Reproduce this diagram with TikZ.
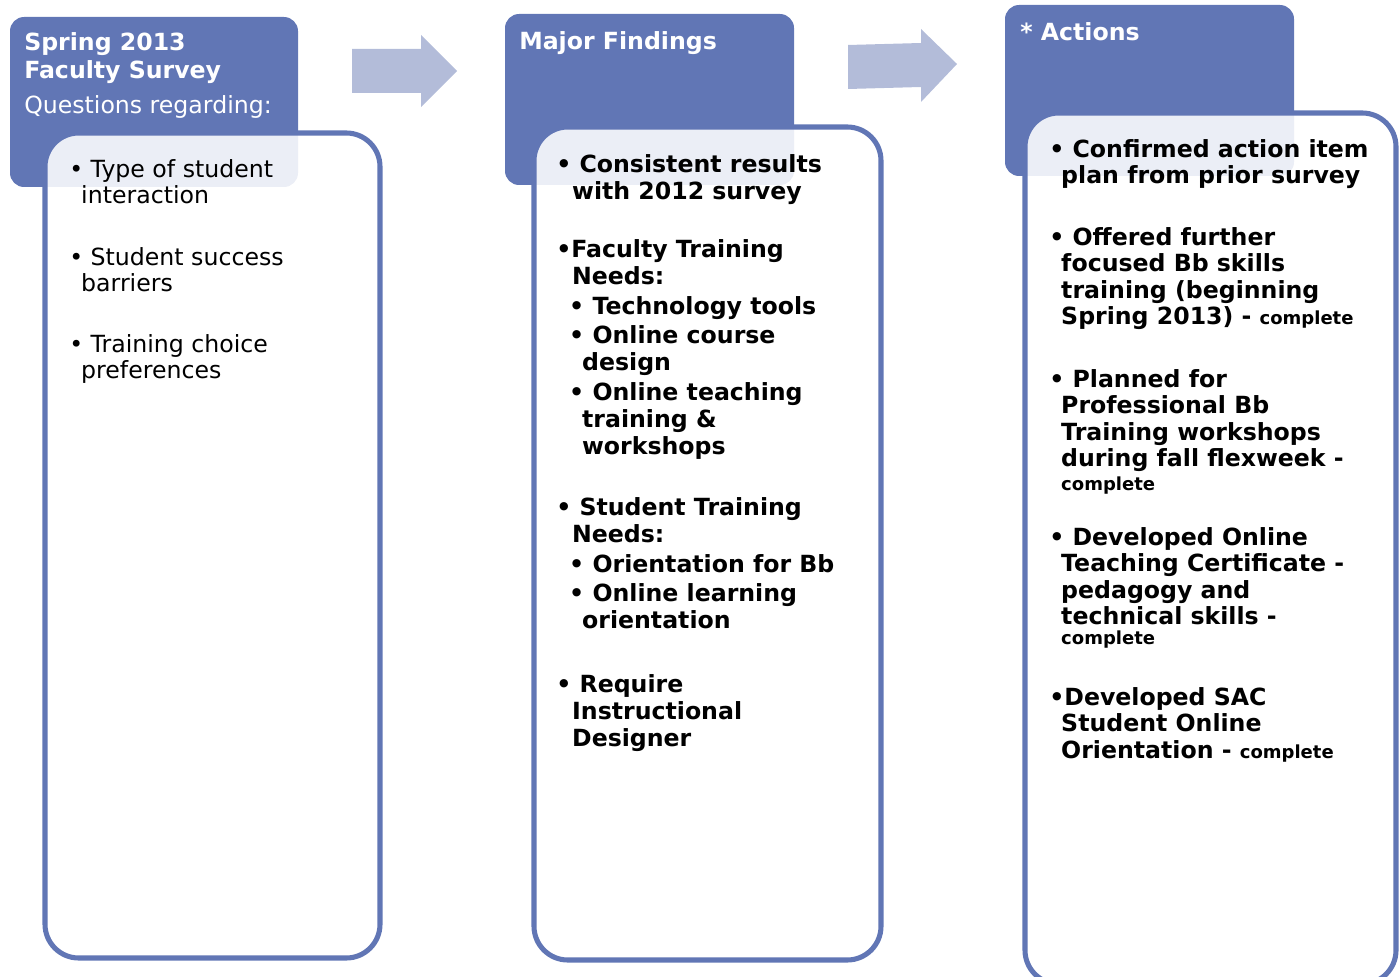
\documentclass[tikz,border=0pt]{standalone}
\usepackage{fontspec}
\setmainfont{DejaVu Sans}
\definecolor{hdblue}{HTML}{6176B5}
\definecolor{arblue}{HTML}{B3BCD9}
\newcommand{\lineind}{\hspace*{8.5pt}}
\newcommand{\findind}{\hspace*{11.3pt}}
\newcommand{\subind}{\hspace*{9.2pt}}
\newcommand{\subcont}{\hspace*{18.4pt}}
\newcommand{\actind}{\hspace*{8.5pt}}
\newcommand{\done}{{\fontsize{12.8}{14}\selectfont complete}}
\tikzset{
  head/.style={fill=hdblue, rounded corners=10pt},
  card/.style={draw=hdblue, line width=3.6pt, fill=white, fill opacity=0.88, rounded corners=24pt},
  arrowshape/.style={fill=arblue},
  title/.style={anchor=north west, inner sep=0pt, align=left, text=white,
    font=\bfseries\fontsize{16.8}{19.9}\selectfont},
  item/.style={anchor=north west, inner sep=0pt, align=left,
    font=\fontsize{16.8}{18.5}\selectfont},
  bitem/.style={item, font=\bfseries\fontsize{16.8}{18.85}\selectfont},
  fitem/.style={item, font=\bfseries\fontsize{16.8}{19.2}\selectfont}
}
\begin{document}
\begin{tikzpicture}[x=0.025cm,y=-0.025cm]
\useasboundingbox (0,0) rectangle (1399,977);
\clip (0,0) rectangle (1399,977);
% header panels
\fill[head] (10,17) rectangle (298,187);
\fill[head] (505,14) rectangle (794,185);
\fill[head] (1005,5) rectangle (1294,176);
% cards
\draw[card] (45,133) rectangle (380,958);
\draw[card] (534,127) rectangle (881,960);
\draw[card] (1025,113) rectangle (1396,984);
% arrows
\fill[arrowshape] (352,49) -- (421,49) -- (421,35) -- (457,71) -- (421,107) -- (421,93) -- (352,93) -- cycle;
\fill[arrowshape] (848,45) -- (921,43) -- (921,29) -- (957,64) -- (921,102) -- (921,87) -- (848,89) -- cycle;
% titles
\node[title] (survey) at (24,32) {Spring 2013\\Faculty Survey};
\node[title, font=\fontsize{16.8}{19.9}\selectfont] (questions) at (24,95) {Questions regarding:};
\node[title] (findings) at (519,31) {Major Findings};
\node[title] (actions) at (1020,22) {* Actions};
% survey items
\node[item] (q1) at (69,159) {• Type of student\\\lineind interaction};
\node[item] (q2) at (69,247) {• Student success\\\lineind barriers};
\node[item] (q3) at (69,334) {• Training choice\\\lineind preferences};
% findings
\node[fitem] (f1) at (556,154) {• Consistent results\\\findind with 2012 survey};
\node[fitem] (f2) at (556,239) {•Faculty Training\\\findind Needs:\\[2pt]
  \subind• Technology tools\\[1.8pt]
  \subind• Online course\\\subcont design\\[2pt]
  \subind• Online teaching\\\subcont training \&\\\subcont workshops};
\node[fitem] (f3) at (556,497) {• Student Training\\\findind Needs:\\[2pt]
  \subind• Orientation for Bb\\[2pt]
  \subind• Online learning\\\subcont orientation};
\node[fitem] (f4) at (556,674) {• Require\\\findind Instructional\\\findind Designer};
% actions
\node[bitem] (a1) at (1049,139) {• Confirmed action item\\\actind plan from prior survey};
\node[bitem] (a2) at (1049,227) {• Offered further\\\actind focused Bb skills\\\actind training (beginning\\\actind Spring 2013) - \done};
\node[bitem] (a3) at (1049,369) {• Planned for\\\actind Professional Bb\\\actind Training workshops\\\actind during fall flexweek -\\[-2.1pt]\actind \done};
\node[bitem] (a4) at (1049,527) {• Developed Online\\\actind Teaching Certificate -\\\actind pedagogy and\\\actind technical skills -\\[-4.5pt]\actind \done};
\node[bitem] (a5) at (1049,687) {•Developed SAC\\\actind Student Online\\\actind Orientation - \done};
\end{tikzpicture}
\end{document}
